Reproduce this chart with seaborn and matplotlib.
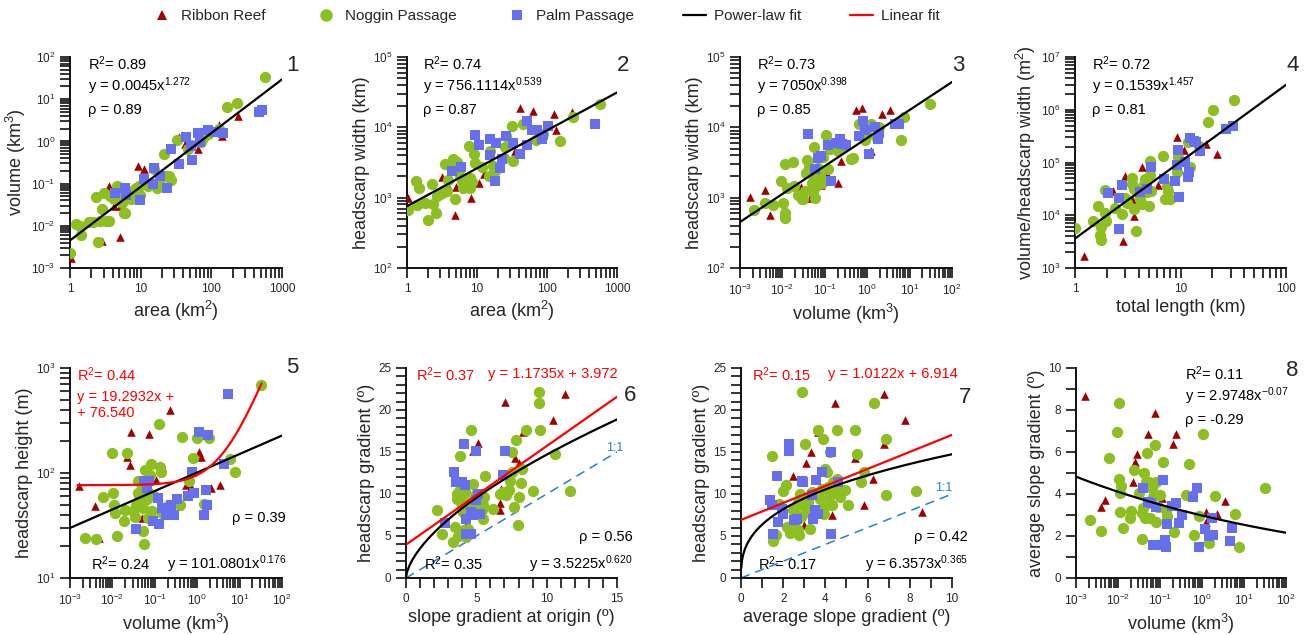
import numpy as np
import matplotlib
matplotlib.use('Agg')
import matplotlib.pyplot as plt
import seaborn as sns
from matplotlib.lines import Line2D
from matplotlib.ticker import LogLocator, NullFormatter, MultipleLocator, FixedLocator, FixedFormatter

sns.set_style('ticks')
plt.rcParams['font.family'] = ['Liberation Sans', 'DejaVu Sans']
plt.rcParams['mathtext.fontset'] = 'custom'
plt.rcParams['mathtext.rm'] = 'Liberation Sans'
plt.rcParams['mathtext.it'] = 'Liberation Sans:italic'
plt.rcParams['mathtext.default'] = 'regular'

RED = '#A00000'
GREEN = '#8DBE22'
BLUE = '#6670EE'
series_names = ['Ribbon Reef', 'Noggin Passage', 'Palm Passage']
fit_names = ['Power-law fit', 'Linear fit']

# ---------------- Panel 1: area vs volume ----------------
p1_rr_x = [1.05, 2.8, 3.6, 4.2, 5.1, 5.1, 9.3, 11.2, 35, 42, 64, 128, 142, 235]
p1_rr_y = [0.0017, 0.0043, 0.088, 0.03, 0.03, 0.0054, 0.26, 0.22, 1.3, 0.85, 0.66, 2.4, 1.35, 3.9]
p1_np_x = [1.0, 1.22, 1.39, 1.42, 1.83, 2.1, 2.3, 2.45, 2.7, 2.8, 3.0, 3.2, 3.6, 3.7, 4.2, 4.7, 5.2,
           5.5, 5.8, 6.1, 6.4, 6.8, 7.2, 7.6, 8.0, 8.5, 9.5, 9.8, 12.5, 15.5, 17, 19, 21.6, 22.7, 25,
           27, 32.7, 46, 52, 72, 76, 90, 130, 164, 228, 580]
p1_np_y = [0.0023, 0.011, 0.010, 0.006, 0.012, 0.012, 0.047, 0.0041, 0.013, 0.025, 0.06, 0.013, 0.013,
           0.05, 0.043, 0.088, 0.05, 0.035, 0.020, 0.020, 0.067, 0.05, 0.043, 0.067, 0.05, 0.08, 0.088,
           0.055, 0.088, 0.22, 0.08, 0.126, 0.5, 0.15, 0.15, 0.12, 1.1, 0.66, 0.83, 0.98, 1.2, 1.5, 2.0,
           6.5, 8, 33]
p1_pp_x = [4.4, 6.1, 6.3, 9.8, 11.2, 15.5, 15, 19, 23.5, 27, 35, 44, 52, 53, 64, 70, 90, 111, 147, 465, 520]
p1_pp_y = [0.06, 0.08, 0.055, 0.04, 0.13, 0.24, 0.1, 0.15, 0.077, 0.65, 0.29, 1.25, 0.77, 0.36, 1.6,
           0.95, 1.85, 1.7, 1.6, 4.9, 5.5]

# ---------------- Panel 2: area vs headscarp width ----------------
p2_rr_x = [1.03, 3.2, 3.9, 5.0, 4.9, 8.2, 10.8, 12.7, 34.5, 41.6, 63, 124, 136, 227]
p2_rr_y = [1000, 1950, 1450, 1400, 560, 980, 1600, 2200, 4650, 18700, 17000, 15500, 9100, 16700]
p2_np_x = [1.03, 1.47, 1.36, 1.39, 1.83, 2.0, 2.27, 2.35, 2.6, 2.7, 3.0, 3.2, 3.5, 3.7, 3.9, 4.4, 4.6,
           4.9, 5.2, 5.5, 5.8, 6.1, 6.3, 6.8, 7.2, 7.6, 7.9, 8.0, 8.5, 9.2, 9.5, 11.8, 14.7, 15.2, 16.9,
           18.3, 24, 25.4, 26, 31.5, 32.6, 45, 70, 87, 155, 235, 580]
p2_np_y = [660, 1380, 1740, 790, 850, 480, 1550, 800, 600, 1070, 1110, 1170, 3030, 1250, 1800, 2500,
           3550, 950, 3250, 2800, 2050, 1740, 1380, 1630, 1450, 5500, 1900, 1380, 1660, 4200, 3100,
           2700, 2000, 4650, 2850, 2400, 3700, 5200, 7600, 10500, 3300, 11200, 6700, 8000, 6300,
           13900, 21500]
p2_pp_x = [4.4, 5.9, 9.3, 10.8, 15.2, 15.5, 18.6, 18.3, 21, 22.7, 26, 33, 41.6, 51, 52, 61, 72, 85, 89,
           105, 490]
p2_pp_y = [2400, 2750, 7900, 5700, 4000, 6800, 6000, 1740, 2600, 3550, 7600, 6000, 4200, 12500, 5700,
           9300, 9300, 6800, 7900, 10500, 11200]

# ---------------- Panel 3: volume vs headscarp width ----------------
p3_rr_x = [0.0017, 0.0039, 0.0051, 0.028, 0.045, 0.080, 0.11, 0.20, 0.24, 0.55, 0.74, 1.25, 2.2, 3.5]
p3_rr_y = [1030, 1270, 560, 1400, 1000, 1520, 2200, 1600, 3300, 17400, 18700, 4650, 15500, 17400]
p3_np_x = [0.0021, 0.0039, 0.0061, 0.0102, 0.0113, 0.0115, 0.0093, 0.0115, 0.0126, 0.018, 0.0192,
           0.023, 0.029, 0.031, 0.035, 0.036, 0.038, 0.043, 0.049, 0.052, 0.054, 0.057, 0.059, 0.062,
           0.065, 0.071, 0.078, 0.085, 0.089, 0.107, 0.12, 0.133, 0.21, 0.25, 0.42, 0.46, 0.65, 0.89,
           1.0, 1.2, 1.7, 1.85, 7.2, 6.3, 31]
p3_np_y = [660, 830, 790, 850, 600, 510, 1740, 3030, 1350, 3200, 1450, 1080, 950, 970, 1250, 2250,
           3400, 2700, 1630, 2150, 1250, 5300, 1000, 1450, 1800, 2600, 2050, 1630, 3800, 7800, 2550,
           4900, 4600, 5500, 3500, 3700, 11000, 6600, 7700, 11000, 7100, 10000, 14000, 6500, 21500]
p3_pp_x = [0.040, 0.059, 0.071, 0.08, 0.12, 0.14, 0.18, 0.23, 0.25, 0.31, 0.65, 0.78, 0.89, 1.13, 1.56,
           1.8, 1.85, 4.6, 5.6]
p3_pp_y = [8000, 2550, 3700, 3900, 5600, 1740, 6000, 6800, 5800, 5600, 7600, 12300, 9300, 4200, 10000,
           6800, 8200, 11200, 11200]

# ---------------- Panel 4: total length vs volume/headscarp width ----------------
p4_rr_x = [1.23, 2.3, 2.84, 3.0, 3.45, 3.6, 4.35, 4.1, 6.1, 9.2, 10.9, 17.4, 22]
p4_rr_y = [1700, 29000, 3300, 56000, 20000, 9600, 83000, 26000, 37000, 300000, 170000, 225000, 148000]
p4_np_x = [1.0, 1.47, 1.67, 1.73, 1.75, 1.76, 1.93, 1.93, 1.97, 2.4, 2.77, 2.98, 3.1, 3.45, 3.5, 3.6,
           3.6, 3.8, 4.0, 4.1, 4.3, 4.45, 4.6, 4.8, 5.0, 5.1, 5.15, 5.2, 6.8, 7.1, 7.4, 7.6, 7.9, 9.2,
           9.4, 11.9, 12.2, 15.0, 18.1, 20.5, 32]
p4_np_y = [5800, 7700, 14800, 4200, 3350, 6000, 30000, 11200, 7800, 13800, 10400, 21500, 17300, 51000,
           39000, 31000, 13200, 5000, 25000, 20000, 16000, 36000, 48000, 27000, 15000, 107000, 58000,
           29000, 135000, 20500, 36000, 29000, 20500, 65000, 126000, 240000, 83000, 210000, 575000,
           1000000, 1550000]
p4_pp_x = [2.07, 2.6, 2.6, 2.77, 4.1, 4.8, 5.3, 7.0, 8.8, 9.4, 9.2, 9.7, 11.0, 11.9, 12.1, 12.2, 13.3,
           14.0, 15.3, 27, 31.5]
p4_pp_y = [26000, 21500, 5400, 37000, 27000, 32000, 83000, 48000, 45000, 170000, 89000, 22000, 103000,
           52000, 65000, 290000, 258000, 240000, 166000, 430000, 500000]

# ---------------- Panel 5: volume vs headscarp height ----------------
p5_rr_x = [0.0016, 0.0039, 0.0049, 0.022, 0.026, 0.028, 0.074, 0.105, 0.23, 0.55, 0.72, 1.1, 1.2, 2.15,
           3.5, 0.049]
p5_rr_y = [76, 48, 24, 142, 120, 245, 237, 86, 400, 77, 74, 157, 143, 72, 77, 37]
p5_np_x = [0.0022, 0.0041, 0.0061, 0.010, 0.0105, 0.011, 0.0116, 0.0126, 0.019, 0.020, 0.022, 0.030,
           0.034, 0.037, 0.041, 0.041, 0.043, 0.049, 0.052, 0.054, 0.056, 0.059, 0.065, 0.071, 0.071,
           0.078, 0.080, 0.085, 0.089, 0.13, 0.14, 0.125, 0.146, 0.21, 0.40, 0.45, 0.64, 0.78, 1.0,
           1.45, 1.95, 5.8, 7.7, 31.5]
p5_np_y = [24, 23.5, 59, 155, 65, 50, 42, 25, 35, 44, 155, 43, 38, 50, 83, 65, 57, 73, 28, 46, 21, 107,
           57, 66, 37, 95, 123, 43, 62, 115, 102, 295, 42, 48, 50, 220, 83, 138, 217, 51, 215, 135, 102,
           685]
p5_pp_x = [0.037, 0.056, 0.065, 0.074, 0.092, 0.12, 0.128, 0.15, 0.18, 0.24, 0.28, 0.33, 0.62, 0.76,
           0.85, 1.1, 1.6, 1.45, 1.7, 1.8, 4.4, 5.3]
p5_pp_y = [29.5, 83, 72, 83, 35, 58, 33, 46, 40, 50, 40, 56, 61, 103, 64, 245, 69, 40, 50, 230, 123, 560]

# ---------------- Panel 6: slope gradient at origin vs headscarp gradient ----------------
p6_rr_x = [3.55, 3.64, 3.95, 4.3, 4.73, 5.13, 6.78, 6.67, 6.67, 7.07, 7.73, 8.0, 8.32, 10.45, 11.3]
p6_rr_y = [12.0, 11.75, 8.06, 6.35, 15.1, 16.1, 10.6, 8.9, 8.06, 20.9, 14.3, 13.7, 17.4, 18.8, 21.9]
p6_np_x = [2.17, 2.53, 3.36, 3.48, 3.6, 3.66, 3.76, 3.83, 3.7, 3.9, 4.0, 4.07, 4.14, 4.18, 4.3, 4.42,
           4.49, 4.54, 4.61, 4.66, 4.78, 4.82, 5.0, 5.2, 5.37, 5.48, 5.53, 5.6, 5.48, 6.15, 6.67, 6.9,
           7.14, 7.33, 7.38, 7.5, 7.56, 7.66, 7.85, 8.04, 7.97, 8.16, 8.27, 8.51, 9.03, 9.46, 9.46, 9.5,
           10.57, 11.63]
p6_np_y = [8.06, 5.28, 4.29, 6.07, 10.0, 9.4, 10.3, 14.5, 5.0, 9.25, 8.65, 7.86, 5.67, 10.24, 4.88,
           5.79, 8.25, 9.05, 17.6, 8.45, 11.15, 9.44, 10.0, 8.65, 8.06, 8.65, 9.64, 12.2, 7.06, 8.25,
           10.0, 10.24, 9.84, 10.5, 11.6, 12.6, 15.0, 8.45, 16.4, 9.64, 6.27, 11.35, 13.0, 17.6, 10.36,
           22.1, 20.8, 17.6, 14.8, 10.4]
p6_pp_x = [2.77, 3.43, 3.52, 4.11, 4.0, 4.18, 4.25, 4.3, 4.59, 4.61, 4.78, 5.0, 5.0, 5.13, 5.25, 7.02, 6.9]
p6_pp_y = [6.6, 12.6, 11.4, 15.9, 11.4, 11.1, 7.06, 5.28, 5.28, 7.86, 7.54, 15.1, 9.25, 10.0, 7.66,
           15.1, 12.3]

# ---------------- Panel 7: average slope gradient vs headscarp gradient ----------------
p7_rr_x = [2.48, 2.99, 3.07, 3.31, 3.56, 3.67, 4.3, 4.46, 5.41, 5.81, 6.25, 6.76, 6.76, 7.78, 8.58]
p7_rr_y = [12.1, 6.35, 13.7, 15.0, 8.06, 17.4, 7.54, 20.8, 14.3, 8.65, 11.8, 16.0, 21.9, 18.8, 7.86]
p7_np_x = [1.46, 1.53, 1.65, 1.8, 2.0, 2.14, 2.2, 2.33, 2.45, 2.56, 2.64, 2.69, 2.72, 2.75, 2.8, 2.83,
           2.88, 2.88, 2.96, 3.04, 3.12, 3.16, 3.23, 3.28, 3.35, 3.67, 3.75, 3.83, 3.88, 3.91, 3.91,
           4.0, 4.07, 4.11, 4.15, 4.22, 4.3, 4.38, 4.46, 4.54, 4.57, 4.62, 4.67, 4.94, 5.09, 5.38,
           5.49, 5.68, 5.85, 6.28, 6.88, 6.88, 8.3]
p7_np_y = [14.5, 4.37, 5.08, 8.85, 10.36, 11.1, 6.07, 5.4, 8.06, 6.67, 7.46, 9.05, 5.67, 5.08, 10.0,
           7.26, 22.1, 8.65, 9.44, 16.0, 7.86, 9.05, 9.64, 5.79, 10.24, 17.6, 9.44, 10.6, 16.6, 8.45,
           7.66, 13.0, 12.6, 10.8, 9.64, 15.0, 8.65, 11.4, 10.6, 11.8, 17.6, 10.24, 9.64, 10.5, 8.65,
           17.6, 14.8, 11.4, 12.6, 20.8, 16.6, 9.9, 10.36]
p7_pp_x = [1.38, 1.49, 1.69, 1.74, 1.93, 2.0, 1.5, 2.28, 2.28, 2.53, 2.64, 2.88, 2.96, 3.35, 3.43, 3.51,
           3.56, 3.67, 3.83, 4.27, 4.27, 4.59]
p7_pp_y = [9.25, 8.65, 12.2, 6.67, 8.25, 7.66, 5.28, 16.0, 15.1, 6.87, 7.06, 11.6, 11.4, 9.9, 7.06,
           8.06, 11.7, 7.66, 12.6, 15.0, 5.28, 11.4]

# ---------------- Panel 8: volume vs average slope gradient ----------------
p8_rr_x = [0.0016, 0.0039, 0.005, 0.0227, 0.026, 0.028, 0.052, 0.077, 0.11, 0.2, 0.24, 0.62, 0.77, 1.23,
           1.25, 2.25, 3.6]
p8_rr_y = [8.67, 3.40, 3.72, 4.59, 5.54, 5.89, 6.85, 7.86, 3.80, 6.36, 6.85, 4.15, 4.35, 3.16, 2.69,
           3.04, 3.67]
p8_np_x = [0.0022, 0.0039, 0.006, 0.0095, 0.0103, 0.0107, 0.0113, 0.0113, 0.0119, 0.0128, 0.019, 0.020,
           0.0235, 0.031, 0.037, 0.038, 0.039, 0.041, 0.043, 0.046, 0.049, 0.053, 0.056, 0.058, 0.064,
           0.069, 0.077, 0.081, 0.081, 0.089, 0.1, 0.12, 0.14, 0.15, 0.21, 0.42, 0.48, 0.63, 0.83, 1.06,
           1.5, 2.05, 6.2, 7.8, 32]
p8_np_y = [2.77, 2.25, 5.73, 6.93, 8.34, 4.70, 3.12, 4.03, 4.38, 2.40, 2.85, 3.2, 5.14, 4.03, 3.08, 1.85,
           3.32, 4.98, 2.85, 4.59, 5.93, 3.56, 4.59, 2.85, 4.27, 3.88, 6.33, 4.59, 2.69, 3.40, 3.96, 5.54,
           3.24, 2.93, 2.18, 3.96, 5.41, 2.03, 2.93, 6.88, 1.66, 3.92, 3.05, 1.50, 4.27]
p8_pp_x = [0.039, 0.053, 0.06, 0.081, 0.07, 0.096, 0.12, 0.13, 0.14, 0.15, 0.19, 0.24, 0.28, 0.33, 0.62,
           0.77, 0.86, 1.21, 1.5, 1.7, 1.85, 4.6, 5.3]
p8_pp_y = [4.30, 3.64, 3.56, 3.40, 1.58, 1.58, 4.67, 1.82, 1.47, 2.56, 3.43, 3.56, 2.64, 3.0, 3.88, 4.27,
           1.46, 2.34, 1.98, 2.88, 2.06, 1.77, 2.37]

# tick labels
dec_labels = {-3: r'$10^{-3}$', -2: r'$10^{-2}$', -1: r'$10^{-1}$', 0: r'$10^{0}$', 1: r'$10^{1}$',
              2: r'$10^{2}$', 3: r'$10^{3}$', 4: r'$10^{4}$', 5: r'$10^{5}$', 6: r'$10^{6}$', 7: r'$10^{7}$'}
plain_ticks_area = [1, 10, 100, 1000]
plain_labels_area = ['1', '10', '100', '1000']
plain_ticks_len = [1, 10, 100]
plain_labels_len = ['1', '10', '100']

W, H = 1309, 635
fig = plt.figure(figsize=(W / 100, H / 100), dpi=100)


def make_ax(x0, x1, ytop, ybot):
    return fig.add_axes([x0 / W, 1 - ybot / H, (x1 - x0) / W, (ybot - ytop) / H])


TOP = (57, 268)
BOT = (368, 578)
axes = [make_ax(70, 282, *TOP), make_ax(407, 617, *TOP), make_ax(740, 952, *TOP), make_ax(1075, 1286, *TOP),
        make_ax(70, 282, *BOT), make_ax(406, 617, *BOT), make_ax(741, 952, *BOT), make_ax(1076, 1286, *BOT)]


def scatter(ax, rx, ry, gx, gy, bx, by):
    sns.scatterplot(x=rx, y=ry, ax=ax, marker='^', color=RED, s=38, linewidth=0, zorder=3)
    sns.scatterplot(x=gx, y=gy, ax=ax, marker='o', color=GREEN, s=66, linewidth=0, zorder=3)
    sns.scatterplot(x=bx, y=by, ax=ax, marker='s', color=BLUE, s=44, linewidth=0, zorder=3)


def style(ax, xlog, ylog, xlim, ylim, xlabel, ylabel):
    ax.set_xlim(*xlim)
    ax.set_ylim(*ylim)
    for s in ['top', 'right']:
        ax.spines[s].set_visible(False)
    for s in ['left', 'bottom']:
        ax.spines[s].set_linewidth(1.4)
        ax.spines[s].set_color('#111111')
    if xlog:
        ax.set_xscale('log')
        ax.xaxis.set_minor_locator(LogLocator(base=10, subs=np.arange(2, 10), numticks=20))
        ax.xaxis.set_minor_formatter(NullFormatter())
    if ylog:
        ax.set_yscale('log')
        ax.yaxis.set_minor_locator(LogLocator(base=10, subs=np.arange(2, 10), numticks=20))
        ax.yaxis.set_minor_formatter(NullFormatter())
        lo, hi = int(round(np.log10(ylim[0]))), int(round(np.log10(ylim[1])))
        decs = list(range(lo, hi + 1))
        ax.yaxis.set_major_locator(FixedLocator([10.0 ** d for d in decs]))
        ax.yaxis.set_major_formatter(FixedFormatter([dec_labels[d] for d in decs]))
    ax.set_xlim(*xlim)
    ax.set_ylim(*ylim)
    ax.tick_params(which='both', direction='out', length=7.5, width=1.2, labelsize=8.5, color='#111111',
                   left=True, bottom=True, pad=3)
    ax.set_xlabel(xlabel, fontsize=13, labelpad=3)
    ax.set_ylabel(ylabel, fontsize=13, labelpad=2)


def set_log_x_dec(ax, lo, hi):
    decs = list(range(lo, hi + 1))
    ax.xaxis.set_major_locator(FixedLocator([10.0 ** d for d in decs]))
    ax.xaxis.set_major_formatter(FixedFormatter([dec_labels[d] for d in decs]))


def set_log_x_plain(ax, ticks, labels):
    ax.xaxis.set_major_locator(FixedLocator(ticks))
    ax.xaxis.set_major_formatter(FixedFormatter(labels))


def txt(ax, x, y, s, color='black', size=10.5, ha='left'):
    ax.text(x, y, s, transform=ax.transAxes, fontsize=size, color=color, ha=ha, va='center')


def num(ax, x, y, s):
    ax.text(x, y, s, transform=ax.transAxes, fontsize=16, ha='center', va='center')


def power_line(ax, a, b, x0, x1, log=True, scale=1.0):
    xs = np.logspace(np.log10(x0), np.log10(x1), 200) if log else np.linspace(x0, x1, 300)
    ax.plot(xs, a * (xs * scale) ** b, color='black', lw=1.6, zorder=4)


def linear_line(ax, m, c, x0, x1, log=False):
    xs = np.logspace(np.log10(x0), np.log10(x1), 300) if log else np.linspace(x0, x1, 50)
    ax.plot(xs, m * xs + c, color='#FF0000', lw=1.6, zorder=4)


# Panel 1
ax = axes[0]
scatter(ax, p1_rr_x, p1_rr_y, p1_np_x, p1_np_y, p1_pp_x, p1_pp_y)
power_line(ax, 0.0045, 1.272, 1, 1000)
style(ax, True, True, (1, 1000), (1e-3, 1e2), r'area (km$^2$)', r'volume (km$^3$)')
set_log_x_plain(ax, plain_ticks_area, plain_labels_area)
txt(ax, 0.085, 0.97, r'R$^2$= 0.89')
txt(ax, 0.085, 0.86, r'y = 0.0045x$^{1.272}$')
txt(ax, 0.085, 0.75, r'ρ = 0.89')
num(ax, 1.05, 0.96, '1')

# Panel 2
ax = axes[1]
scatter(ax, p2_rr_x, p2_rr_y, p2_np_x, p2_np_y, p2_pp_x, p2_pp_y)
power_line(ax, 756.1114, 0.539, 1, 1000)
style(ax, True, True, (1, 1000), (1e2, 1e5), r'area (km$^2$)', 'headscarp width (km)')
set_log_x_plain(ax, plain_ticks_area, plain_labels_area)
txt(ax, 0.076, 0.97, r'R$^2$= 0.74')
txt(ax, 0.076, 0.86, r'y = 756.1114x$^{0.539}$')
txt(ax, 0.076, 0.75, r'ρ = 0.87')
num(ax, 1.03, 0.96, '2')

# Panel 3
ax = axes[2]
scatter(ax, p3_rr_x, p3_rr_y, p3_np_x, p3_np_y, p3_pp_x, p3_pp_y)
power_line(ax, 7050, 0.398, 1e-3, 1e2)
style(ax, True, True, (1e-3, 1e2), (1e2, 1e5), r'volume (km$^3$)', 'headscarp width (km)')
set_log_x_dec(ax, -3, 2)
txt(ax, 0.08, 0.97, r'R$^2$= 0.73')
txt(ax, 0.08, 0.86, r'y = 7050x$^{0.398}$')
txt(ax, 0.08, 0.75, r'ρ = 0.85')
num(ax, 1.03, 0.96, '3')

# Panel 4 (fit uses length in metres)
ax = axes[3]
scatter(ax, p4_rr_x, p4_rr_y, p4_np_x, p4_np_y, p4_pp_x, p4_pp_y)
power_line(ax, 0.1539, 1.457, 1, 100, scale=1000.0)
style(ax, True, True, (1, 100), (1e3, 1e7), 'total length (km)', r'volume/headscarp width (m$^2$)')
set_log_x_plain(ax, plain_ticks_len, plain_labels_len)
txt(ax, 0.08, 0.97, r'R$^2$= 0.72')
txt(ax, 0.08, 0.86, r'y = 0.1539x$^{1.457}$')
txt(ax, 0.08, 0.75, r'ρ = 0.81')
num(ax, 1.03, 0.96, '4')

# Panel 5
ax = axes[4]
scatter(ax, p5_rr_x, p5_rr_y, p5_np_x, p5_np_y, p5_pp_x, p5_pp_y)
power_line(ax, 101.0801, 0.176, 1e-3, 1e2)
linear_line(ax, 19.2932, 76.540, 0.0015, 33, log=True)
style(ax, True, True, (1e-3, 1e2), (10, 1e3), r'volume (km$^3$)', 'headscarp height (m)')
set_log_x_dec(ax, -3, 2)
txt(ax, 0.035, 0.97, r'R$^2$= 0.44', color='#FF0000')
txt(ax, 0.035, 0.86, 'y = 19.2932x +', color='#FF0000')
txt(ax, 0.035, 0.785, '+ 76.540', color='#FF0000')
txt(ax, 1.02, 0.285, 'ρ = 0.39', ha='right')
txt(ax, 0.10, 0.067, r'R$^2$= 0.24')
txt(ax, 1.02, 0.067, r'y = 101.0801x$^{0.176}$', ha='right')
num(ax, 1.05, 1.0, '5')

# Panel 6
ax = axes[5]
scatter(ax, p6_rr_x, p6_rr_y, p6_np_x, p6_np_y, p6_pp_x, p6_pp_y)
ax.plot([0, 15], [0, 15], color='#2A7FD0', lw=1.1, ls=(0, (6, 4)), zorder=2)
power_line(ax, 3.5225, 0.620, 0.001, 15, log=False)
linear_line(ax, 1.1735, 3.972, 0, 15)
style(ax, False, False, (0, 15), (0, 25), 'slope gradient at origin (º)', 'headscarp gradient (º)')
ax.xaxis.set_major_locator(MultipleLocator(5))
ax.xaxis.set_minor_locator(MultipleLocator(1))
ax.yaxis.set_major_locator(MultipleLocator(5))
ax.yaxis.set_minor_locator(MultipleLocator(1))
txt(ax, 0.047, 0.97, r'R$^2$= 0.37', color='#FF0000')
txt(ax, 0.39, 0.97, 'y = 1.1735x + 3.972', color='#FF0000')
txt(ax, 1.03, 0.62, '1:1', color='#2A7FD0', size=9, ha='right')
txt(ax, 1.075, 0.195, 'ρ = 0.56', ha='right')
txt(ax, 0.085, 0.067, r'R$^2$= 0.35')
txt(ax, 1.075, 0.067, r'y = 3.5225x$^{0.620}$', ha='right')
num(ax, 1.06, 0.87, '6')

# Panel 7
ax = axes[6]
scatter(ax, p7_rr_x, p7_rr_y, p7_np_x, p7_np_y, p7_pp_x, p7_pp_y)
ax.plot([0, 10], [0, 10], color='#2A7FD0', lw=1.1, ls=(0, (6, 4)), zorder=2)
power_line(ax, 6.3573, 0.365, 0.01, 10, log=False)
linear_line(ax, 1.0122, 6.914, 0, 10)
style(ax, False, False, (0, 10), (0, 25), 'average slope gradient (º)', 'headscarp gradient (º)')
ax.xaxis.set_major_locator(MultipleLocator(2))
ax.xaxis.set_minor_locator(MultipleLocator(1))
ax.yaxis.set_major_locator(MultipleLocator(5))
ax.yaxis.set_minor_locator(MultipleLocator(1))
txt(ax, 0.052, 0.97, r'R$^2$= 0.15', color='#FF0000')
txt(ax, 0.41, 0.97, 'y = 1.0122x + 6.914', color='#FF0000')
txt(ax, 1.0, 0.43, '1:1', color='#2A7FD0', size=9, ha='right')
txt(ax, 1.075, 0.195, 'ρ = 0.42', ha='right')
txt(ax, 0.08, 0.067, r'R$^2$= 0.17')
txt(ax, 1.075, 0.067, r'y = 6.3573x$^{0.365}$', ha='right')
num(ax, 1.06, 0.86, '7')

# Panel 8
ax = axes[7]
scatter(ax, p8_rr_x, p8_rr_y, p8_np_x, p8_np_y, p8_pp_x, p8_pp_y)
power_line(ax, 2.9748, -0.07, 1e-3, 1e2)
style(ax, True, False, (1e-3, 1e2), (0, 10), r'volume (km$^3$)', 'average slope gradient (º)')
set_log_x_dec(ax, -3, 2)
ax.yaxis.set_major_locator(MultipleLocator(2))
ax.yaxis.set_minor_locator(MultipleLocator(1))
txt(ax, 0.52, 0.975, r'R$^2$= 0.11')
txt(ax, 0.52, 0.865, r'y = 2.9748x$^{-0.07}$')
txt(ax, 0.52, 0.75, 'ρ = -0.29')
num(ax, 1.03, 0.99, '8')

# Legend
handles = [
    Line2D([], [], marker='^', color=RED, ls='none', markersize=7, markeredgewidth=0),
    Line2D([], [], marker='o', color=GREEN, ls='none', markersize=9, markeredgewidth=0),
    Line2D([], [], marker='s', color=BLUE, ls='none', markersize=7.5, markeredgewidth=0),
    Line2D([], [], color='black', lw=1.6),
    Line2D([], [], color='#FF0000', lw=1.6),
]
fig.legend(handles, series_names + fit_names, loc='center', bbox_to_anchor=(545 / W, 1 - 16 / H), ncol=5,
           frameon=False, fontsize=11, columnspacing=3.2, handlelength=1.5, handletextpad=0.5)

fig.savefig('out.png', dpi=100)
